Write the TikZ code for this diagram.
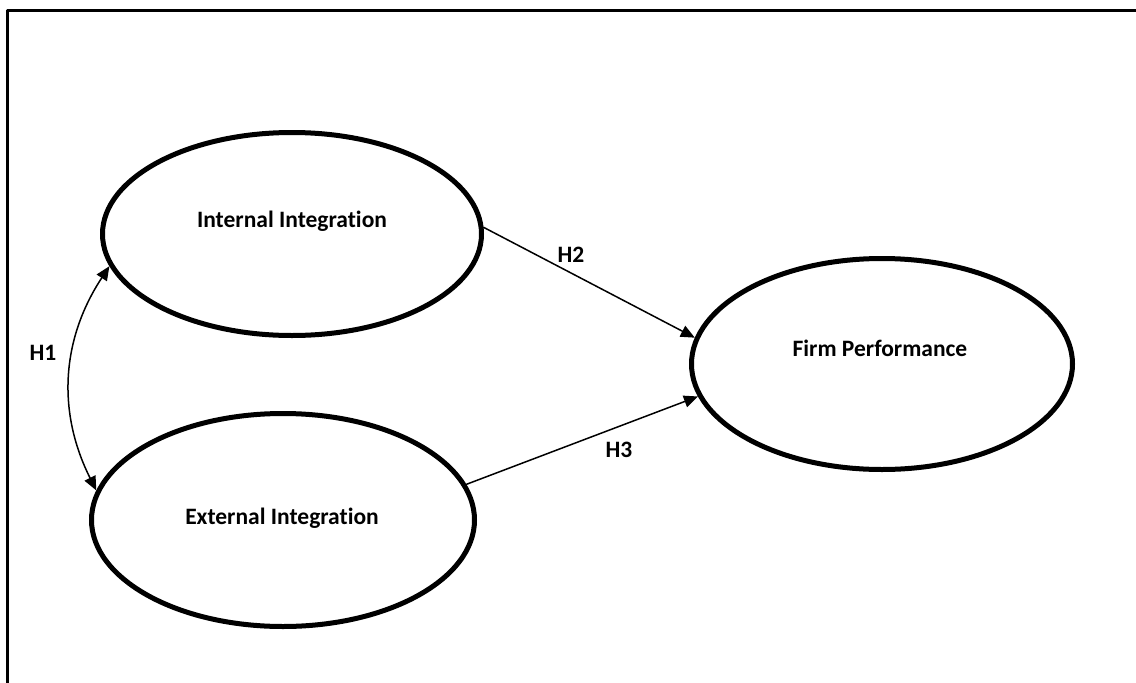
\documentclass[tikz,border=0pt]{standalone}
\usepackage{fontspec}
\setmainfont{Carlito}[Ligatures=NoCommon]
\usetikzlibrary{shapes.geometric,arrows.meta}

\begin{document}
\begin{tikzpicture}[line cap=round,line join=round,>={Triangle[length=14pt,width=12pt]},x=1pt,y=-1pt,
  construct/.style={draw,ellipse,line width=5pt,inner sep=0pt},
  lbl/.style={font=\bfseries\fontsize{23.5}{28}\selectfont,inner sep=0pt}]

\useasboundingbox (0,0) rectangle (1136,683);
%% frame
\draw [line width=3pt] (7,683) -- (7,10.5) -- (1136,10.5);
%% constructs
\node [construct,minimum width=379pt,minimum height=203pt] (ii) at (292,234) {};
\node [construct,minimum width=383pt,minimum height=213pt] (ee) at (283,520) {};
\node [construct,minimum width=381pt,minimum height=211pt] (fp) at (882,364) {};
\node [lbl] (iitext) at (292,221) {Internal Integration};
\node [lbl] (eetext) at (282,518) {External Integration};
\node [lbl] (fptext) at (880,348) {Firm Performance};
%% paths
\draw [<->,line width=1.5pt] (ii.190) to[bend right=30] (ee.171);
\draw [->,line width=1.5pt] (ii.2) -- (fp.172);
\draw [->,line width=1.5pt] (ee.11) -- (fp.190);
\node [lbl] (h1) at (43,353) {H1};
\node [lbl] (h2) at (571,255) {H2};
\node [lbl] (h3) at (619,450) {H3};
%%
\end{tikzpicture}
\end{document}
